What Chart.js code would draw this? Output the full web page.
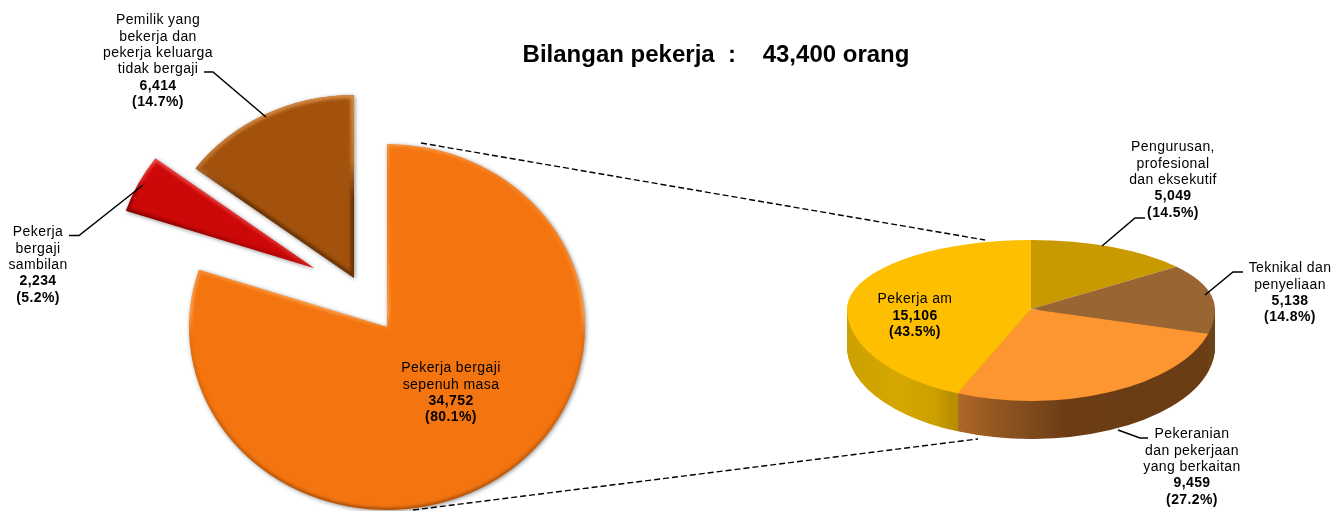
<!DOCTYPE html>
<html><head><meta charset="utf-8">
<style>
html,body{margin:0;padding:0;background:#fff;overflow:hidden}
#wrap{position:relative;width:1344px;height:511px;overflow:hidden;background:#fff}
canvas{position:absolute;left:0;top:0}
</style>
<script src="https://cdn.jsdelivr.net/npm/chart.js@4"></script>
</head><body>
<div id="wrap"><canvas id="main" width="1344" height="620"></canvas><canvas id="detail" width="1344" height="620"></canvas></div>
<script>
const titleText = 'Bilangan pekerja  :    43,400 orang';

const mainCategories = [
  ['Pekerja bergaji', 'sepenuh masa'],
  ['Pekerja', 'bergaji', 'sambilan'],
  ['Pemilik yang', 'bekerja dan', 'pekerja keluarga', 'tidak bergaji']
];
const mainValues = [34752, 2234, 6414];
const mainPercents = ['80.1', '5.2', '14.7'];
const mainColors = ['#F47510', '#CC0808', '#A2520C'];

const detailCategories = [
  ['Pengurusan,', 'profesional', 'dan eksekutif'],
  ['Teknikal dan', 'penyeliaan'],
  ['Pekeranian', 'dan pekerjaan', 'yang berkaitan'],
  ['Pekerja am']
];
const detailValues = [5049, 5138, 9459, 15106];
const detailPercents = ['14.5', '14.8', '27.2', '43.5'];
const detailColors = ['#C99900', '#996633', '#FD9530', '#FDBF00'];

const FONT = '"Liberation Sans", Arial, sans-serif';
const LINE = 16.3;

function drawLabel(ctx, lines, value, pct, x, y) {
  ctx.save();
  ctx.fillStyle = '#000';
  ctx.textAlign = 'center';
  ctx.textBaseline = 'middle';
  ctx.letterSpacing = '0.4px';
  ctx.font = '14px ' + FONT;
  lines.forEach((t, i) => ctx.fillText(t, x, y + i * LINE));
  ctx.font = 'bold 14px ' + FONT;
  ctx.fillText(value.toLocaleString('en-US'), x, y + lines.length * LINE);
  ctx.fillText('(' + pct + '%)', x, y + (lines.length + 1) * LINE);
  ctx.restore();
}
function polyline(ctx, pts, width, dash) {
  ctx.save();
  ctx.strokeStyle = '#000';
  ctx.lineWidth = width;
  ctx.setLineDash(dash || []);
  ctx.beginPath();
  pts.forEach((p, i) => i ? ctx.lineTo(p[0], p[1]) : ctx.moveTo(p[0], p[1]));
  ctx.stroke();
  ctx.restore();
}
function wedge(ctx, a) {
  ctx.beginPath();
  ctx.moveTo(a.x, a.y);
  ctx.arc(a.x, a.y, a.outerRadius, a.startAngle, a.endAngle);
  ctx.closePath();
}
function withFill(arc, ctx, fill) {
  const saved = arc.options;
  arc.options = Object.assign({}, saved, {backgroundColor: fill, borderWidth: 0});
  arc.draw(ctx);
  arc.options = saved;
}

/* exploded, bevelled pie */
const explode = [[0, 0], [-73, -59], [-33, -49]];
const squash = 183 / 198;
const bevel = [
  {dir: [0, -1], ext: 198, width: 5, stops: [[0, 'rgba(110,45,0,.55)'], [.25, 'rgba(120,55,0,.3)'], [.46, 'rgba(120,55,0,.12)'], [.5, 'rgba(255,175,100,.2)'], [.54, 'rgba(255,175,100,.75)'], [.72, 'rgba(255,165,85,.35)'], [.92, 'rgba(255,165,85,.3)'], [1, 'rgba(255,175,100,.55)']]},
  {dir: [0.466, -0.885], ext: 34, width: 6, stops: [[0, 'rgba(110,0,0,.85)'], [.45, 'rgba(150,0,0,.4)'], [.55, 'rgba(255,90,90,.35)'], [1, 'rgba(255,100,100,.7)']]},
  {dir: [0, -1], ext: 198, width: 7, stops: [[0, 'rgba(70,30,0,.6)'], [.72, 'rgba(70,30,0,.6)'], [.82, 'rgba(215,140,70,.6)'], [1, 'rgba(225,150,80,.8)']]}
];
const mainPlugin = {
  id: 'mainPie',
  beforeDatasetsDraw(chart) {
    const ctx = chart.ctx;
    chart.getDatasetMeta(0).data.forEach((a, i) => {
      const b = bevel[i];
      ctx.save();
      ctx.translate(explode[i][0], explode[i][1]);
      ctx.translate(a.x, a.y); ctx.scale(1, squash); ctx.translate(-a.x, -a.y);
      ctx.save();
      ctx.shadowColor = 'rgba(0,0,0,.45)';
      ctx.shadowBlur = 4;
      ctx.shadowOffsetX = 1;
      ctx.shadowOffsetY = 1;
      a.draw(ctx);
      ctx.restore();
      ctx.save();
      wedge(ctx, a);
      ctx.clip();
      const m = (a.startAngle + a.endAngle) / 2;
      const along = i === 1 ? 120 : 0;
      const ox = a.x + Math.cos(m) * along, oy = a.y + Math.sin(m) * along;
      const g = ctx.createLinearGradient(ox - b.dir[0] * b.ext, oy - b.dir[1] * b.ext, ox + b.dir[0] * b.ext, oy + b.dir[1] * b.ext);
      b.stops.forEach(s => g.addColorStop(s[0], s[1]));
      ctx.strokeStyle = g;
      ctx.filter = 'blur(1.5px)';
      ctx.lineWidth = b.width;
      ctx.lineJoin = 'miter';
      wedge(ctx, a);
      ctx.stroke();
      ctx.restore();
      ctx.restore();
    });
    return false;
  },
  afterDraw(chart) {
    const ctx = chart.ctx;
    ctx.save();
    ctx.fillStyle = '#000';
    ctx.textAlign = 'center';
    ctx.textBaseline = 'middle';
    ctx.font = 'bold 24px ' + FONT;
    ctx.fillText(titleText, 716, 55.5);
    ctx.restore();
    polyline(ctx, [[421, 143], [985, 240]], 1.4, [6, 3]);
    polyline(ctx, [[413, 510], [978, 439]], 1.4, [6, 3]);
    polyline(ctx, [[204, 72], [213, 72], [266, 117]], 1.5);
    polyline(ctx, [[69, 235.5], [79, 235.5], [143, 185]], 1.5);
    const pos = [[451, 368.5], [38, 232.5], [158, 20.5]];
    mainCategories.forEach((c, i) => drawLabel(ctx, c, mainValues[i], mainPercents[i], pos[i][0], pos[i][1]));
  }
};
new Chart(document.getElementById('main'), {
  type: 'pie',
  data: {labels: mainCategories.map(c => c.join(' ')), datasets: [{data: mainValues, backgroundColor: mainColors, borderWidth: 0, clip: false}]},
  options: {
    responsive: false, animation: false, events: [],
    layout: {padding: {left: 189, right: 759, top: 129, bottom: 95}},
    plugins: {legend: {display: false}, tooltip: {enabled: false}}
  },
  plugins: [mainPlugin]
});

/* tilted pie with depth */
const topRy = 69, botRy = 92, depth = 38;
function sideFill(ctx, i) {
  const g = ctx.createLinearGradient(847, 0, 1215, 0);
  if (i === 3) {
    g.addColorStop(0, '#CBA000'); g.addColorStop(.14, '#D6A700');
    g.addColorStop(.24, '#CDA000'); g.addColorStop(.28, '#B98F00'); g.addColorStop(1, '#B98F00');
  } else if (i === 2) {
    g.addColorStop(0, '#B56A28'); g.addColorStop(.28, '#B56A28'); g.addColorStop(.42, '#8F5520');
    g.addColorStop(.6, '#6B3C15'); g.addColorStop(1, '#6A3D15');
  } else {
    g.addColorStop(0, '#6A4418'); g.addColorStop(1, '#6A4418');
  }
  return g;
}
function halfPass(ctx, arcs, cy, ry, clipTop, clipH, dy, fills) {
  ctx.save();
  ctx.translate(0, dy);
  ctx.beginPath();
  ctx.rect(0, clipTop, 1344, clipH);
  ctx.clip();
  arcs.forEach((a, i) => {
    ctx.save();
    ctx.translate(a.x, cy); ctx.scale(1, ry / a.outerRadius); ctx.translate(-a.x, -cy);
    fills ? withFill(a, ctx, fills[i]) : a.draw(ctx);
    ctx.restore();
  });
  ctx.restore();
}
const detailPlugin = {
  id: 'detailPie',
  beforeDatasetsDraw(chart) {
    const ctx = chart.ctx;
    const arcs = chart.getDatasetMeta(0).data;
    const cy = arcs[0].y;
    const fills = arcs.map((a, i) => sideFill(ctx, i));
    for (let d = depth; d >= 1; d--) halfPass(ctx, arcs, cy, botRy, cy, 300, d, fills);
    halfPass(ctx, arcs, cy, topRy, 0, cy, 0);
    halfPass(ctx, arcs, cy, botRy, cy, 300, 0);
    return false;
  },
  afterDraw(chart) {
    const ctx = chart.ctx;
    polyline(ctx, [[1145, 218], [1135, 218], [1102, 246]], 1.5);
    polyline(ctx, [[1243, 272], [1233, 272], [1205, 295]], 1.5);
    polyline(ctx, [[1148, 438], [1140, 438], [1118, 430]], 1.5);
    const pos = [[1173, 147.5], [1290, 268.5], [1192, 434.5], [915, 299.5]];
    detailCategories.forEach((c, i) => drawLabel(ctx, c, detailValues[i], detailPercents[i], pos[i][0], pos[i][1]));
  }
};
new Chart(document.getElementById('detail'), {
  type: 'pie',
  data: {labels: detailCategories.map(c => c.join(' ')), datasets: [{data: detailValues, backgroundColor: detailColors, borderWidth: 0, clip: false}]},
  options: {
    responsive: false, animation: false, events: [],
    layout: {padding: {left: 847, right: 129, top: 125, bottom: 127}},
    plugins: {legend: {display: false}, tooltip: {enabled: false}}
  },
  plugins: [detailPlugin]
});
</script>
</body></html>
